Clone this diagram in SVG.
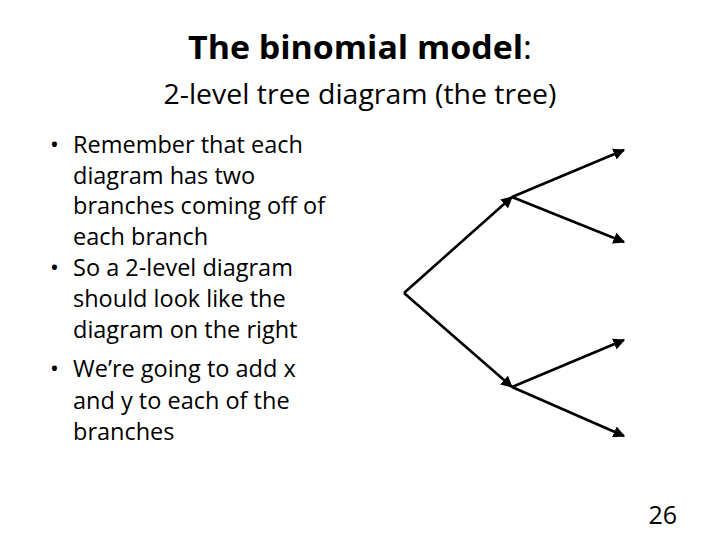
<svg xmlns="http://www.w3.org/2000/svg" width="720" height="540" viewBox="0 0 720 540">
<defs>
<style>
text{font-family:"Open Sans","Liberation Sans",sans-serif;fill:#000}
.b{font-size:23.5px}
line{stroke:#000;stroke-width:2.6}
</style>
<marker id="a" viewBox="0 0 10 10" refX="9" refY="5" markerWidth="4.5" markerHeight="4.5" orient="auto"><path d="M0,0L10,5L0,10z" fill="#000"/></marker>
</defs>
<rect width="720" height="540" fill="#fff"/>
<text x="360" y="59" text-anchor="middle" font-size="32" font-weight="bold" textLength="344" lengthAdjust="spacingAndGlyphs">The binomial model<tspan font-weight="normal">:</tspan></text>
<text x="360" y="104" text-anchor="middle" font-size="27" textLength="393" lengthAdjust="spacingAndGlyphs">2-level tree diagram (the tree)</text>
<g id="bullets" class="b">
<text x="50" y="153">•</text>
<text x="73" y="153" class="b">Remember that each</text>
<text x="73" y="184" class="b">diagram has two</text>
<text x="73" y="214" class="b">branches coming off of</text>
<text x="73" y="245" class="b">each branch</text>
<text x="50" y="276">•</text>
<text x="73" y="276" class="b">So a 2-level diagram</text>
<text x="73" y="307" class="b">should look like the</text>
<text x="73" y="338" class="b">diagram on the right</text>
<text x="50" y="377">•</text>
<text x="73" y="377" class="b">We’re going to add x</text>
<text x="73" y="409" class="b">and y to each of the</text>
<text x="73" y="440" class="b">branches</text>
</g>
<g id="connectors">
<line x1="404" y1="293" x2="512" y2="197" marker-end="url(#a)"/>
<line x1="404" y1="293" x2="512" y2="387" marker-end="url(#a)"/>
<line x1="512" y1="197" x2="624" y2="150" marker-end="url(#a)"/>
<line x1="512" y1="197" x2="624" y2="242" marker-end="url(#a)"/>
<line x1="512" y1="387" x2="624" y2="340" marker-end="url(#a)"/>
<line x1="512" y1="387" x2="624" y2="436" marker-end="url(#a)"/>
</g>
<text x="677" y="524" text-anchor="end" font-size="25">26</text>
</svg>
